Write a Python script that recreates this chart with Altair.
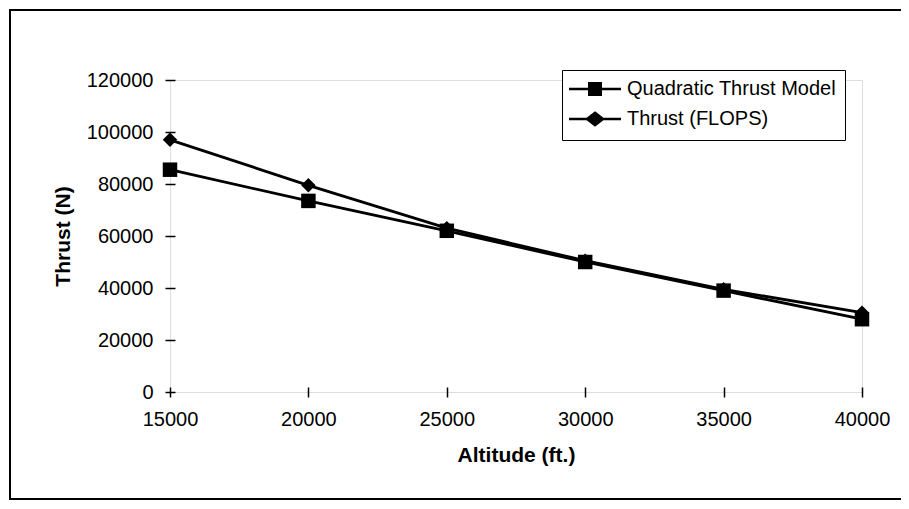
import altair as alt
import pandas as pd

altitudes = [15000, 20000, 25000, 30000, 35000, 40000]
quadratic = [85500, 73500, 62000, 50000, 39000, 28000]
flops = [97000, 79500, 63000, 50500, 39500, 30500]
series_names = ["Quadratic Thrust Model", "Thrust (FLOPS)"]
y_ticks = [0, 20000, 40000, 60000, 80000, 100000, 120000]
x_ticks = [15000, 20000, 25000, 30000, 35000, 40000]

rows = []
for a, q, f in zip(altitudes, quadratic, flops):
    rows.append({"altitude": a, "thrust": q, "series": series_names[0]})
    rows.append({"altitude": a, "thrust": f, "series": series_names[1]})
df = pd.DataFrame(rows)

FONT = "Liberation Sans"
FS = 20
TFS = 21

xscale = alt.Scale(domain=[15000, 40000], nice=False, zero=False)
yscale = alt.Scale(domain=[0, 120000], nice=False)

main_x = alt.Axis(values=x_ticks, format="d", ticks=False, domain=False, grid=False,
                  labelFlush=False, labelPadding=17, labelFontSize=FS, labelFont=FONT,
                  labelColor="black",
                  title="Altitude (ft.)", titleFontSize=TFS, titleFont=FONT, titleFontWeight="bold",
                  titleColor="black", titleY=63, titleBaseline="middle", orient="bottom")
main_y = alt.Axis(values=y_ticks, format="d", ticks=False, domain=False, grid=False,
                  labelFlush=False, labelPadding=17, labelFontSize=FS, labelFont=FONT,
                  labelColor="black",
                  title="Thrust (N)", titleFontSize=TFS, titleFont=FONT, titleFontWeight="bold",
                  titleColor="black", titleX=-107, titleBaseline="middle", orient="left")
cross_x = alt.Axis(values=x_ticks, orient="bottom", offset=-5, tickSize=10, tickWidth=1.5,
                   tickColor="black", labels=False, domain=False, grid=False, title=None)
cross_y = alt.Axis(values=y_ticks, orient="left", offset=-5, tickSize=10, tickWidth=1.5,
                   tickColor="black", labels=False, domain=False, grid=False, title=None)

frame = alt.Chart(alt.Data(values=[{"k": 1}])).mark_rect(
    fillOpacity=0, stroke="black", strokeWidth=2
).encode(x=alt.value(-160), x2=alt.value(760), y=alt.value(-70), y2=alt.value(419))

lines = alt.Chart(df).mark_line(color="black", strokeWidth=2.8).encode(
    x=alt.X("altitude:Q", scale=xscale, axis=main_x),
    y=alt.Y("thrust:Q", scale=yscale, axis=main_y),
    detail="series:N",
)

points = alt.Chart(df).mark_point(filled=True, color="black", opacity=1, size=210).encode(
    x=alt.X("altitude:Q", scale=xscale, axis=None),
    y=alt.Y("thrust:Q", scale=yscale, axis=None),
    shape=alt.Shape("series:N", scale=alt.Scale(domain=series_names, range=["square", "diamond"]), legend=None),
)

ticklayer = alt.Chart(df).mark_point(opacity=0).encode(
    x=alt.X("altitude:Q", scale=xscale, axis=cross_x),
    y=alt.Y("thrust:Q", scale=yscale, axis=cross_y),
)

# legend glyphs: a line with a marker built from stroked segments / outlines
sq_path = ("M-5.2,0H5.2"
           "M-1.4,-1.15H1.4M-1.4,-0.65H1.4M-1.4,-0.15H1.4"
           "M-1.4,0.35H1.4M-1.4,0.85H1.4M-1.4,1.15H1.4")
di_path = ("M-5.2,0H5.2"
           "M0,-1.25L1.6,0L0,1.25L-1.6,0Z"
           "M0,-0.85L1.1,0L0,0.85L-1.1,0Z"
           "M0,-0.45L0.6,0L0,0.45L-0.6,0Z"
           "M0,-0.15L0.2,0L0,0.15L-0.2,0Z")

legendlayer = alt.Chart(df).transform_filter("false").mark_point(
    filled=False, color="black", strokeWidth=2.5, opacity=1
).encode(
    shape=alt.Shape("series:N", scale=alt.Scale(domain=series_names, range=[sq_path, di_path]),
                    legend=alt.Legend(
                        title=None, orient="none", legendX=392, legendY=-10,
                        strokeColor="black", fillColor="white", padding=9,
                        labelFontSize=FS, labelFont=FONT, labelColor="black", labelLimit=400,
                        symbolSize=100, symbolOffset=14, labelOffset=22, rowPadding=7,
                        symbolStrokeWidth=2.5, symbolStrokeColor="black",
                        symbolOpacity=1,
                    )),
)

chart = alt.layer(frame, lines, points, ticklayer, legendlayer).resolve_scale(
    shape="independent"
).resolve_axis(x="independent", y="independent").properties(
    width=692, height=312,
    padding={"left": 162, "top": 72, "right": 39, "bottom": 109},
    autosize=alt.AutoSizeParams(type="none"),
).configure_view(stroke="black", strokeWidth=2).configure(background="white")

chart.save("out.html", embed_options={"renderer": "svg", "actions": False})
